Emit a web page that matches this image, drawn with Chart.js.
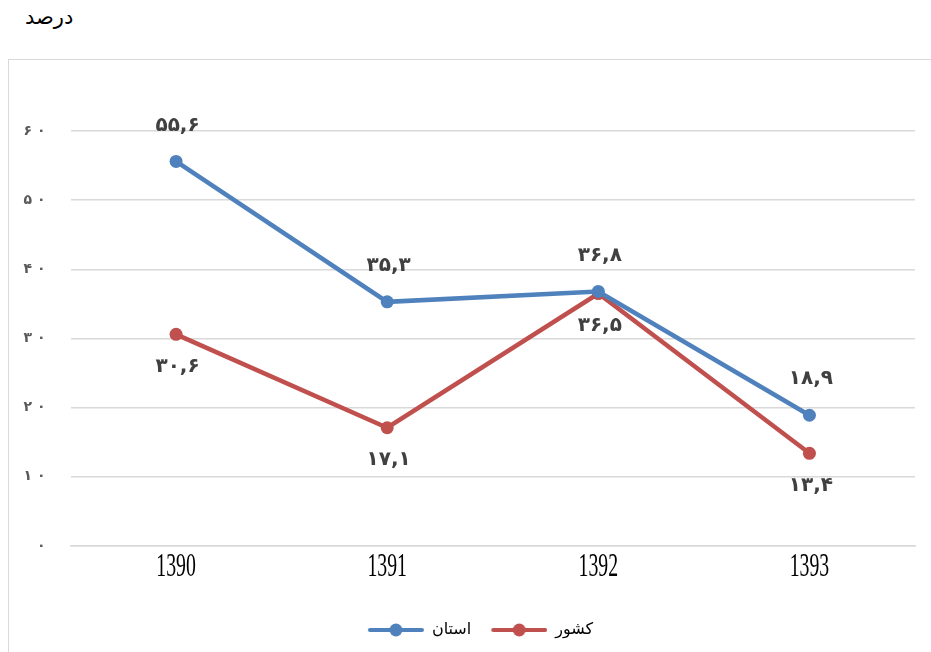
<!DOCTYPE html>
<html>
<head>
<meta charset="utf-8">
<script src="https://cdn.jsdelivr.net/npm/chart.js@4"></script>
<style>
  body { margin: 0; width: 931px; height: 652px; overflow: hidden; background: #fff; position: relative; }
  #frame { position: absolute; left: 8px; top: 59px; width: 940px; height: 620px; border: 1.5px solid #d9d9d9; }
  #unit { position: absolute; left: 25px; top: 5px; font: 21px "DejaVu Sans", sans-serif; color: #000; direction: rtl; }
  #wrap { position: absolute; left: 0; top: 0; width: 931px; height: 652px; }
</style>
</head>
<body>
<div id="frame"></div>
<div id="unit">درصد</div>
<div id="wrap"><canvas id="lineChart" width="931" height="652"></canvas></div>
<script>
// chart data
const years = ['1390', '1391', '1392', '1393'];
const ostan = [55.6, 35.3, 36.8, 18.9];
const keshvar = [30.6, 17.1, 36.5, 13.4];
const seriesNames = ['استان', 'کشور'];
const yTicks = [0, 10, 20, 30, 40, 50, 60];

const blue = '#4f81bd';
const red = '#c0504d';

function faDigits(v) {
    return String(v).replace(/\d/g, d => '۰۱۲۳۴۵۶۷۸۹'[d]).replace('.', ',');
}

// little line + dot swatch for the legend (left part left blank as spacing)
function swatch(color) {
    const c = document.createElement('canvas');
    c.width = 66; c.height = 16;
    const g = c.getContext('2d');
    g.strokeStyle = color;
    g.lineWidth = 4;
    g.lineCap = 'round';
    g.beginPath();
    g.moveTo(12, 8); g.lineTo(64, 8);
    g.stroke();
    g.fillStyle = color;
    g.beginPath();
    g.arc(38, 8, 6.5, 0, Math.PI * 2);
    g.fill();
    return c;
}

const valueLabels = {
    id: 'valueLabels',
    afterDatasetsDraw(chart) {
        const ctx = chart.ctx;
        ctx.save();
        ctx.font = 'bold 20px "DejaVu Sans", sans-serif';
        ctx.letterSpacing = '3px';
        ctx.fillStyle = '#404040';
        ctx.textAlign = 'center';
        ctx.textBaseline = 'middle';
        chart.data.datasets.forEach((ds, i) => {
            const meta = chart.getDatasetMeta(i);
            const dy = i === 0 ? -36 : 32;
            meta.data.forEach((pt, j) => {
                ctx.fillText(faDigits(ds.data[j]), pt.x + 1.5, pt.y + dy);
            });
        });
        ctx.restore();
    }
};

// narrow serif year labels under the x axis
const yearLabels = {
    id: 'yearLabels',
    afterDraw(chart) {
        const ctx = chart.ctx;
        const xs = chart.scales.x;
        ctx.save();
        ctx.font = '33px "Liberation Serif", serif';
        ctx.fillStyle = '#000';
        ctx.textAlign = 'center';
        ctx.textBaseline = 'middle';
        chart.data.labels.forEach((lab, i) => {
            ctx.save();
            ctx.translate(xs.getPixelForTick(i), xs.top + 21);
            ctx.scale(0.6, 1);
            ctx.fillText(lab, 0, 0);
            ctx.restore();
        });
        ctx.restore();
    }
};

// legend sits a bit right of the canvas centre in the original
const legendShift = {
    id: 'legendShift',
    afterLayout(chart) {
        chart.legend.left += 18;
        chart.legend.right += 18;
    }
};

const ctx = document.getElementById('lineChart').getContext('2d');
const chart = new Chart(ctx, {
    type: 'line',
    data: {
        labels: years,
        datasets: [{
            label: seriesNames[0],
            data: ostan,
            borderColor: blue,
            backgroundColor: blue,
            borderWidth: 4.5,
            pointRadius: 6.5,
            pointHoverRadius: 6.5,
            pointBorderWidth: 0
        }, {
            label: seriesNames[1],
            data: keshvar,
            borderColor: red,
            backgroundColor: red,
            borderWidth: 4.5,
            pointRadius: 6.5,
            pointHoverRadius: 6.5,
            pointBorderWidth: 0
        }]
    },
    options: {
        responsive: false,
        animation: false,
        layout: { padding: { top: 131, right: 16, bottom: 4, left: 0 } },
        plugins: {
            tooltip: { enabled: false },
            legend: {
                position: 'bottom',
                labels: {
                    usePointStyle: true,
                    pointStyleWidth: 66,
                    padding: 10,
                    color: '#595959',
                    font: { size: 16, family: '"DejaVu Sans", sans-serif' },
                    generateLabels(ch) {
                        return ch.data.datasets.map((ds, i) => ({
                            text: ds.label,
                            pointStyle: swatch(ds.borderColor),
                            fillStyle: ds.borderColor,
                            strokeStyle: ds.borderColor,
                            lineWidth: 0,
                            hidden: false,
                            datasetIndex: i
                        }));
                    }
                }
            }
        },
        scales: {
            x: {
                offset: true,
                grid: { display: false },
                border: { color: '#d9d9d9', width: 1.5 },
                ticks: { display: false },
                afterFit(scale) { scale.height = 66; }
            },
            y: {
                min: 0,
                max: 60,
                afterBuildTicks(scale) { scale.ticks = yTicks.map(v => ({ value: v })); },
                grid: { color: '#d9d9d9', lineWidth: 1.5, drawTicks: false },
                border: { display: false },
                ticks: {
                    color: '#595959',
                    padding: 25,
                    font: { size: 14, weight: 'bold', family: '"DejaVu Sans", sans-serif' },
                    callback: v => faDigits(v).split('').join(' ')
                },
                afterFit(scale) { scale.width = 70.5; }
            }
        }
    },
    plugins: [valueLabels, yearLabels, legendShift]
});
</script>
</body>
</html>
